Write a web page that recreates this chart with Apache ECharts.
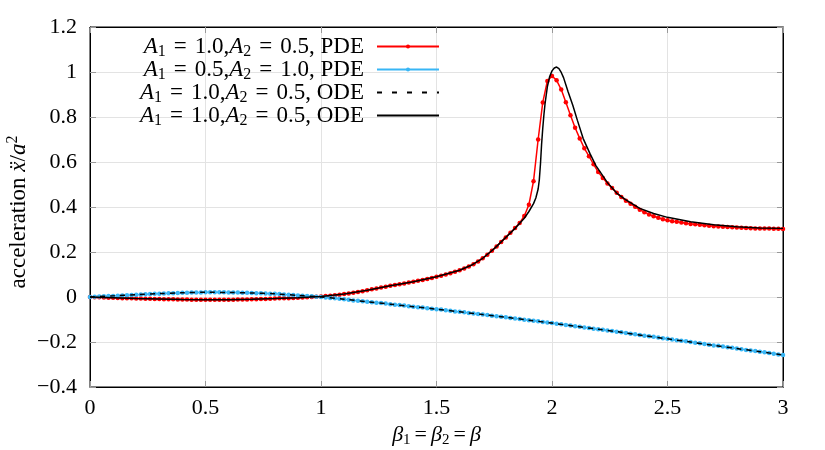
<!DOCTYPE html>
<html>
<head>
<meta charset="utf-8">
<title>acceleration vs beta</title>
<script src="https://cdn.jsdelivr.net/npm/echarts@6/dist/echarts.min.js"></script>
<style>
  html, body { margin: 0; padding: 0; background: #fff; }
  #main { width: 825px; height: 450px; }
</style>
</head>
<body>
<div id="main"></div>
<script>
// sample points of the PDE runs (beta = beta1 = beta2)
var beta = [
  0.00, 0.02, 0.04, 0.06, 0.08, 0.10, 0.12, 0.14, 0.16, 0.18,
  0.20, 0.22, 0.24, 0.26, 0.28, 0.30, 0.32, 0.34, 0.36, 0.38,
  0.40, 0.42, 0.44, 0.46, 0.48, 0.50, 0.52, 0.54, 0.56, 0.58,
  0.60, 0.62, 0.64, 0.66, 0.68, 0.70, 0.72, 0.74, 0.76, 0.78,
  0.80, 0.82, 0.84, 0.86, 0.88, 0.90, 0.92, 0.94, 0.96, 0.98,
  1.00, 1.02, 1.04, 1.06, 1.08, 1.10, 1.12, 1.14, 1.16, 1.18,
  1.20, 1.22, 1.24, 1.26, 1.28, 1.30, 1.32, 1.34, 1.36, 1.38,
  1.40, 1.42, 1.44, 1.46, 1.48, 1.50, 1.52, 1.54, 1.56, 1.58,
  1.60, 1.62, 1.64, 1.66, 1.68, 1.70, 1.72, 1.74, 1.76, 1.78,
  1.80, 1.82, 1.84, 1.86, 1.88, 1.90, 1.92, 1.94, 1.96, 1.98,
  2.00, 2.02, 2.04, 2.06, 2.08, 2.10, 2.12, 2.14, 2.16, 2.18,
  2.20, 2.22, 2.24, 2.26, 2.28, 2.30, 2.32, 2.34, 2.36, 2.38,
  2.40, 2.42, 2.44, 2.46, 2.48, 2.50, 2.52, 2.54, 2.56, 2.58,
  2.60, 2.62, 2.64, 2.66, 2.68, 2.70, 2.72, 2.74, 2.76, 2.78,
  2.80, 2.82, 2.84, 2.86, 2.88, 2.90, 2.92, 2.94, 2.96, 2.98,
  3.00
];

// A1 = 1.0, A2 = 0.5, PDE (red)
var pdeRed = [
  0.000, -0.001, -0.001, -0.002, -0.003, -0.003, -0.004, -0.005, -0.005, -0.006,
  -0.007, -0.007, -0.008, -0.008, -0.009, -0.009, -0.010, -0.010, -0.010, -0.011,
  -0.011, -0.011, -0.012, -0.012, -0.012, -0.012, -0.012, -0.012, -0.012, -0.012,
  -0.012, -0.012, -0.011, -0.011, -0.011, -0.010, -0.010, -0.009, -0.009, -0.008,
  -0.007, -0.006, -0.006, -0.005, -0.004, -0.003, -0.002, -0.001, 0.000, 0.001,
  0.002, 0.004, 0.006, 0.008, 0.010, 0.013, 0.016, 0.019, 0.022, 0.026,
  0.030, 0.034, 0.038, 0.042, 0.046, 0.050, 0.053, 0.057, 0.060, 0.064,
  0.068, 0.072, 0.076, 0.080, 0.085, 0.090, 0.095, 0.100, 0.106, 0.112,
  0.119, 0.127, 0.136, 0.146, 0.158, 0.172, 0.188, 0.206, 0.225, 0.245,
  0.265, 0.286, 0.307, 0.329, 0.360, 0.410, 0.515, 0.700, 0.865, 0.960,
  0.982, 0.963, 0.922, 0.866, 0.808, 0.752, 0.705, 0.661, 0.626, 0.590,
  0.556, 0.529, 0.505, 0.484, 0.463, 0.444, 0.428, 0.415, 0.401, 0.388,
  0.377, 0.367, 0.359, 0.352, 0.346, 0.341, 0.337, 0.334, 0.331, 0.328,
  0.325, 0.323, 0.321, 0.319, 0.317, 0.315, 0.313, 0.312, 0.311, 0.310,
  0.309, 0.308, 0.307, 0.306, 0.305, 0.305, 0.304, 0.304, 0.303, 0.303,
  0.302
];

// A1 = 0.5, A2 = 1.0, PDE (blue)
var pdeBlue = [
  0.000, 0.001, 0.002, 0.003, 0.004, 0.005, 0.006, 0.007, 0.008, 0.009,
  0.010, 0.011, 0.012, 0.013, 0.014, 0.015, 0.016, 0.017, 0.017, 0.018,
  0.019, 0.019, 0.020, 0.020, 0.020, 0.021, 0.021, 0.021, 0.021, 0.021,
  0.020, 0.020, 0.020, 0.019, 0.019, 0.018, 0.017, 0.017, 0.016, 0.015,
  0.014, 0.013, 0.011, 0.010, 0.009, 0.007, 0.006, 0.004, 0.003, 0.001,
  0.000, -0.002, -0.004, -0.006, -0.008, -0.010, -0.012, -0.015, -0.017, -0.019,
  -0.021, -0.023, -0.025, -0.027, -0.029, -0.032, -0.034, -0.036, -0.038, -0.041,
  -0.043, -0.045, -0.047, -0.050, -0.052, -0.054, -0.056, -0.059, -0.061, -0.064,
  -0.066, -0.068, -0.071, -0.073, -0.076, -0.078, -0.080, -0.083, -0.085, -0.088,
  -0.090, -0.093, -0.095, -0.098, -0.101, -0.103, -0.106, -0.108, -0.111, -0.113,
  -0.116, -0.119, -0.121, -0.124, -0.127, -0.130, -0.132, -0.135, -0.138, -0.141,
  -0.143, -0.146, -0.149, -0.151, -0.154, -0.157, -0.160, -0.163, -0.166, -0.169,
  -0.172, -0.174, -0.177, -0.180, -0.183, -0.186, -0.189, -0.192, -0.194, -0.197,
  -0.200, -0.203, -0.206, -0.209, -0.212, -0.215, -0.217, -0.220, -0.223, -0.226,
  -0.229, -0.232, -0.235, -0.238, -0.240, -0.243, -0.246, -0.249, -0.252, -0.255,
  -0.258
];

// ODE, dashed black (lies on the blue curve)
var betaOdeDash = [
  0.0, 0.1, 0.2, 0.3, 0.4, 0.5, 0.6, 0.7, 0.8, 0.9,
  1.0, 1.1, 1.2, 1.3, 1.4, 1.5, 1.6, 1.7, 1.8, 1.9,
  2.0, 2.1, 2.2, 2.3, 2.4, 2.5, 2.6, 2.7, 2.8, 2.9, 3.0
];
var odeDash = [
  0.000, 0.005, 0.010, 0.015, 0.019, 0.021, 0.020, 0.018, 0.014, 0.007,
  0.000, -0.010, -0.021, -0.032, -0.043, -0.054, -0.066, -0.078, -0.090, -0.103,
  -0.116, -0.130, -0.143, -0.157, -0.172, -0.186, -0.200, -0.215, -0.229, -0.243, -0.258
];

// ODE, solid black (lies on the red curve, peak a bit later and higher)
var betaOdeSolid = [
  0.0, 0.1, 0.2, 0.3, 0.4, 0.5, 0.6, 0.7, 0.8, 0.9,
  1.0, 1.1, 1.2, 1.3, 1.4, 1.5, 1.6, 1.65, 1.7, 1.75,
  1.8, 1.84, 1.88, 1.9, 1.92, 1.93, 1.94, 1.945, 1.95, 1.955,
  1.96, 1.965, 1.97, 1.98, 1.99, 2.0, 2.01, 2.02, 2.03, 2.04,
  2.05, 2.07, 2.09, 2.11, 2.135, 2.165, 2.19, 2.24, 2.28, 2.32,
  2.38, 2.44, 2.5, 2.6, 2.7, 2.8, 2.9, 3.0
];
var odeSolid = [
  0.000, -0.003, -0.007, -0.009, -0.011, -0.012, -0.012, -0.010, -0.007, -0.003,
  0.002, 0.013, 0.030, 0.050, 0.068, 0.090, 0.119, 0.141, 0.172, 0.215,
  0.265, 0.305, 0.350, 0.380, 0.415, 0.440, 0.480, 0.520, 0.590, 0.680,
  0.750, 0.810, 0.860, 0.935, 0.980, 1.005, 1.018, 1.022, 1.015, 0.998,
  0.975, 0.911, 0.852, 0.785, 0.704, 0.636, 0.584, 0.508, 0.462, 0.432,
  0.394, 0.371, 0.354, 0.334, 0.321, 0.312, 0.307, 0.305
];

var serif = '"Liberation Serif", "DejaVu Serif", serif';

function pairs(xs, ys) {
  return xs.map(function (x, i) { return [x, ys[i]]; });
}
function tickText(v) {
  return String(+v.toFixed(1)).replace('-', '\u2212');
}

// rich styles for the math bits
function richSet(size, lh, eqPad) {
  var sub = Math.round(size * 0.68);
  return {
    n: { fontFamily: serif, fontSize: size, color: '#000', lineHeight: lh, verticalAlign: 'middle' },
    i: { fontFamily: serif, fontSize: size, color: '#000', fontStyle: 'italic', lineHeight: lh, verticalAlign: 'middle' },
    e: { fontFamily: serif, fontSize: size, color: '#000', lineHeight: lh, verticalAlign: 'middle', padding: [0, eqPad, 0, eqPad] },
    s: { fontFamily: serif, fontSize: sub, color: '#000', lineHeight: sub, verticalAlign: 'bottom' },
    p: { fontFamily: serif, fontSize: sub, color: '#000', lineHeight: sub, verticalAlign: 'top' }
  };
}

var legendText = {
  pdeRed: '{i|A}{s|1}{e|=}{n|1.0,}{i|A}{s|2}{e|=}{n|0.5, PDE}',
  pdeBlue: '{i|A}{s|1}{e|=}{n|0.5,}{i|A}{s|2}{e|=}{n|1.0, PDE}',
  odeDash: '{i|A}{s|1}{e|=}{n|1.0,}{i|A}{s|2}{e|=}{n|0.5, ODE}',
  odeSolid: '{i|A}{s|1}{e|=}{n|1.0,}{i|A}{s|2}{e|=}{n|0.5, ODE}'
};

var chart = echarts.init(document.getElementById('main'), null, { renderer: 'canvas' });

var option = {
  animation: false,
  backgroundColor: '#fff',
  grid: {
    left: 90, right: 42, top: 27, bottom: 63,
    outerBoundsMode: 'none', containLabel: false,
    show: true, borderColor: '#000', borderWidth: 1, backgroundColor: 'transparent'
  },
  legend: {
    orient: 'vertical',
    right: 385,
    top: 35,
    padding: 0,
    align: 'right',
    itemWidth: 62,
    itemHeight: 5,
    itemGap: -2,
    selectedMode: false,
    formatter: function (name) { return legendText[name]; },
    textStyle: { fontFamily: serif, fontSize: 23, color: '#000', padding: [0, 8, 0, 0], rich: richSet(23, 27, 8) },
    data: [
      { name: 'pdeRed' },
      { name: 'pdeBlue' },
      { name: 'odeDash', itemStyle: { opacity: 0 }, lineStyle: { type: [5, 10] } },
      { name: 'odeSolid', itemStyle: { opacity: 0 } }
    ]
  },
  xAxis: [{
    type: 'value', min: 0, max: 3, interval: 0.5,
    name: '{i|\u03b2}{s|1}{e|=}{i|\u03b2}{s|2}{e|=}{i|\u03b2}',
    nameLocation: 'middle', nameGap: 35,
    nameTextStyle: { fontFamily: serif, fontSize: 22, color: '#000', rich: richSet(22, 26, 4) },
    axisLine: { onZero: false, lineStyle: { color: '#000', width: 1 } },
    axisTick: { inside: true, length: 6, lineStyle: { color: '#999' } },
    axisLabel: { fontFamily: serif, fontSize: 22, color: '#000', margin: 10, formatter: tickText },
    splitLine: { show: true, lineStyle: { color: '#e3e3e3', width: 1 } }
  }, {
    type: 'value', min: 0, max: 3, interval: 0.5, position: 'top',
    axisLine: { show: true, onZero: false, lineStyle: { color: '#000' } },
    axisTick: { inside: true, length: 6, lineStyle: { color: '#999' } },
    axisLabel: { show: false },
    splitLine: { show: false }
  }],
  yAxis: [{
    type: 'value', min: -0.4, max: 1.2, interval: 0.2,
    name: '{n|acceleration }{i|\u1e8d}{n|/}{i|a}{p|2}',
    nameLocation: 'middle', nameGap: 58, nameMoveOverlap: false,
    nameTextStyle: { fontFamily: serif, fontSize: 23, color: '#000', padding: [0, 10, 0, 0], rich: richSet(23, 27, 0) },
    axisLine: { show: true, onZero: false, lineStyle: { color: '#000', width: 1 } },
    axisTick: { show: true, inside: true, length: 6, lineStyle: { color: '#999' } },
    axisLabel: { fontFamily: serif, fontSize: 22, color: '#000', margin: 13, formatter: tickText },
    splitLine: { show: true, lineStyle: { color: '#e3e3e3', width: 1 } }
  }, {
    type: 'value', min: -0.4, max: 1.2, interval: 0.2, position: 'right',
    axisLine: { show: true, onZero: false, lineStyle: { color: '#000' } },
    axisTick: { show: true, inside: true, length: 6, lineStyle: { color: '#999' } },
    axisLabel: { show: false },
    splitLine: { show: false }
  }],
  series: [{
    name: 'pdeRed', type: 'line', data: pairs(beta, pdeRed), z: 2,
    symbol: 'circle', symbolSize: 4.5, showSymbol: true,
    itemStyle: { color: '#ff0000' }, lineStyle: { color: '#ff0000', width: 1.5 },
    emphasis: { disabled: true }
  }, {
    name: 'pdeBlue', type: 'line', data: pairs(beta, pdeBlue), z: 2,
    symbol: 'circle', symbolSize: 4.5, showSymbol: true,
    itemStyle: { color: '#38b6f5' }, lineStyle: { color: '#38b6f5', width: 1.5 },
    emphasis: { disabled: true }
  }, {
    name: 'odeDash', type: 'line', data: pairs(betaOdeDash, odeDash), z: 3,
    symbol: 'none', smooth: 0.3,
    itemStyle: { color: '#000' }, lineStyle: { color: '#000', width: 1.5, type: [5, 5] },
    emphasis: { disabled: true }
  }, {
    name: 'odeSolid', type: 'line', data: pairs(betaOdeSolid, odeSolid), z: 3,
    symbol: 'none',
    itemStyle: { color: '#000' }, lineStyle: { color: '#000', width: 1.5 },
    emphasis: { disabled: true }
  }]
};

chart.setOption(option);
</script>
</body>
</html>
